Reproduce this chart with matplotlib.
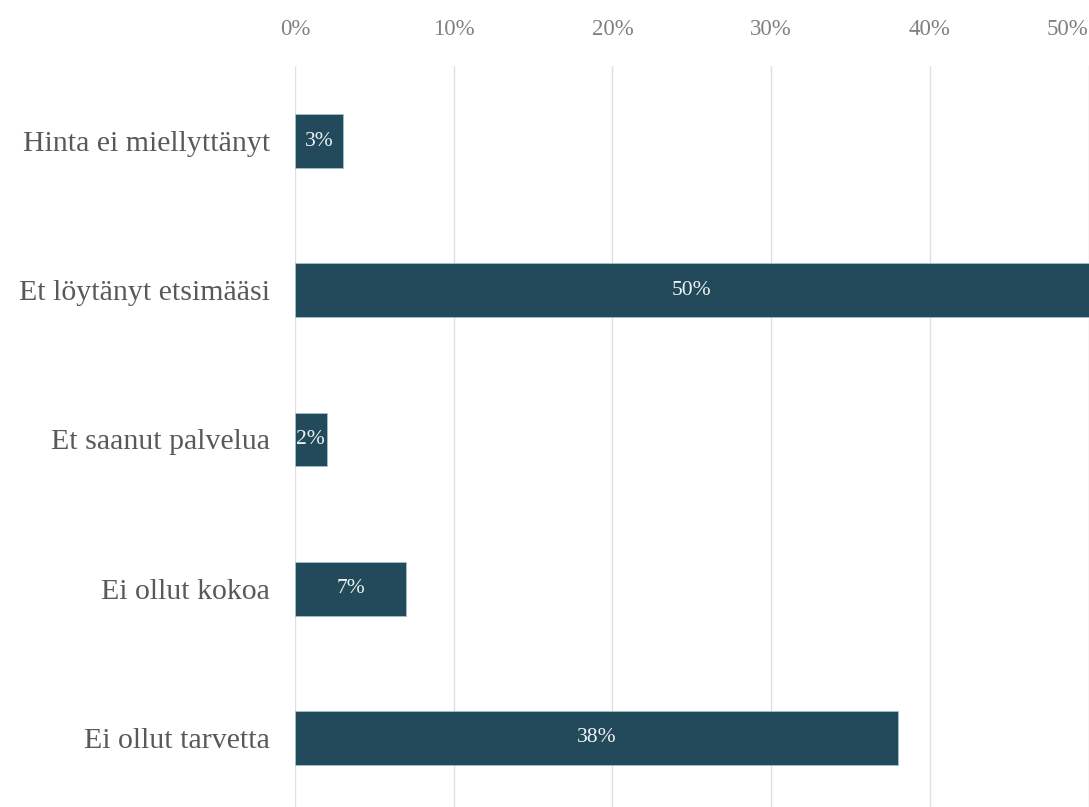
import matplotlib
matplotlib.use("Agg")
import matplotlib.pyplot as plt

categories = ["Hinta ei miellyttänyt", "Et löytänyt etsimääsi", "Et saanut palvelua",
              "Ei ollut kokoa", "Ei ollut tarvetta"]
values = [3, 50, 2, 7, 38]
xticks = [0, 10, 20, 30, 40, 50]
xtick_labels = ["0%", "10%", "20%", "30%", "40%", "50%"]

plt.rcParams['font.family'] = ['Liberation Serif', 'DejaVu Serif']

fig = plt.figure(figsize=(10.89, 8.07), dpi=100)
ax = fig.add_axes([295/1089, -0.0069, (1088.5-295)/1089, 0.9246])

ypos = list(range(len(categories)))
ax.barh(ypos, values, height=0.36, color="#234a5a", edgecolor="#9ec3cf", linewidth=0.6, zorder=3)
for y, v in zip(ypos, values):
    ax.text(v/2, y, f"{v}%", ha="center", va="center", color="#eef4f6", fontsize=15.5, zorder=4)

ax.set_ylim(len(categories)-0.5, -0.5)
ax.set_xlim(0, 50)
ax.xaxis.tick_top()
ax.tick_params(axis="x", length=0, pad=19)
ax.tick_params(axis="y", length=0, pad=18)
ax.set_yticks(ypos)
ax.set_yticklabels(categories, fontsize=21.5, color="#595959")
ax.set_xticks(xticks)
labels = ax.set_xticklabels(xtick_labels, fontsize=16.5, color="#808080")
labels[-1].set_horizontalalignment("right")
ax.grid(axis="x", color="#e0e0e0", linewidth=1, zorder=0)
for s in ax.spines.values():
    s.set_visible(False)

fig.savefig("out.png", dpi=100)
